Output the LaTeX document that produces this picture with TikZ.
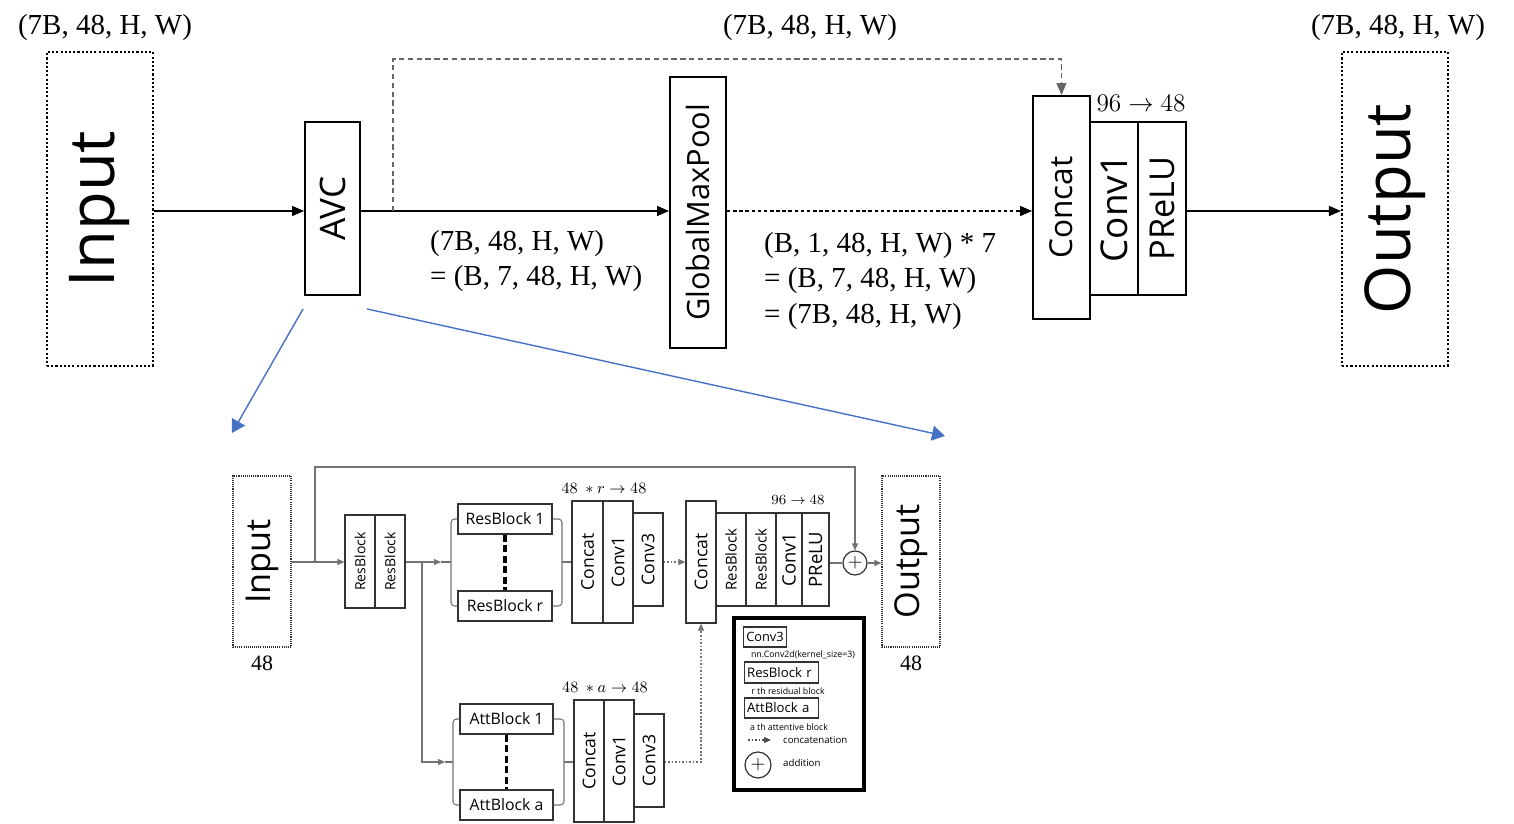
\documentclass[tikz,border=0pt]{standalone}
\usepackage{fontspec}
\usepackage{graphicx}
\setmainfont{Liberation Serif}
\setsansfont{Open Sans}
\usetikzlibrary{arrows.meta,positioning}

\newcommand{\upr}[1]{\rotatebox{90}{#1}}
\newcommand{\fs}[1]{\fontsize{#1}{#1}\selectfont}

\tikzset{
  big/.style={draw, line width=1.1pt, inner sep=0pt, font=\sffamily},
  bigdot/.style={draw, line width=1.2pt, dash pattern=on 1.2pt off 1.2pt, inner sep=0pt, font=\sffamily\fs{36}},
  small/.style={draw=black!80, line width=0.7pt, inner sep=0pt, font=\sffamily\fs{9}},
  smalldot/.style={draw=black!80, line width=0.7pt, dash pattern=on 0.6pt off 0.6pt, inner sep=0pt, font=\sffamily\fs{19.5}},
  dimlabel/.style={font=\fs{16.5}},
  link/.style={line width=0.7pt, -{Triangle[length=2.4mm,width=2mm]}},
  wire/.style={draw=black!55, line width=0.6pt},
  wirearr/.style={wire, -{Triangle[length=1.4mm,width=1.2mm]}},
  zoomarr/.style={draw={rgb,255:red,68;green,114;blue,196}, line width=0.8pt, -{Triangle[length=2.6mm,width=3mm]}},
}

\begin{document}
\begin{tikzpicture}[x=0.02cm,y=-0.02cm]
    \useasboundingbox (0,0) rectangle (1514,824);

    % Top row
    \node[bigdot, minimum width=2.12cm, minimum height=6.28cm] (inp) at (100,209) {\upr{Input}};
    \node[big, minimum width=1.1cm, minimum height=3.46cm, font=\sffamily\fs{20}] (avc) at (332.5,208.5) {\upr{AVC}};
    \node[big, minimum width=1.12cm, minimum height=5.42cm, font=\sffamily\fs{17.5}] (gmp) at (698,212.5) {\upr{GlobalMaxPool}};
    \node[big, minimum width=1.14cm, minimum height=4.46cm, font=\sffamily\fs{18}] (cat) at (1061.5,207.5) {\upr{Concat}};
    \node[big, minimum width=0.96cm, minimum height=3.46cm, font=\sffamily\fs{21}] (conv) at (1114,208.5) {\upr{Conv1}};
    \node[big, minimum width=0.96cm, minimum height=3.46cm, font=\sffamily\fs{19.5}] (prelu) at (1162,208.5) {\upr{PReLU}};
    \node[bigdot, minimum width=2.12cm, minimum height=6.28cm] (outp) at (1395,209) {\upr{Output}};

    % Top labels
    \node[dimlabel] (sin) at (105,28) {(7B, 48, H, W)};
    \node[dimlabel] (smid) at (810,28) {(7B, 48, H, W)};
    \node[dimlabel] (sout) at (1398,28) {(7B, 48, H, W)};
    \node[dimlabel, anchor=west, align=left, font=\fontsize{16.5}{20}\selectfont] (savc) at (424,261) {(7B, 48, H, W)\\= (B, 7, 48, H, W)};
    \node[dimlabel, anchor=west, align=left, font=\fontsize{16.5}{20.2}\selectfont] (sgmp) at (758,281) {(B, 1, 48, H, W) * 7\\= (B, 7, 48, H, W)\\= (7B, 48, H, W)};
    \node[font=\fs{14}] (sred) at (1141,103) {$96 \rightarrow 48$};

    % Top arrows
    \coordinate (split) at (393,211);
    \draw[link] (inp.east |- split) -- (avc.west |- split);
    \draw[link] (avc.east |- split) -- (gmp.west |- split);
    \draw[link, dash pattern=on 2pt off 1.5pt] (gmp.east |- split) -- (cat.west |- split);
    \draw[link] (prelu.east |- split) -- (outp.west |- split);
    \draw[link, draw=black!60, dash pattern=on 3pt off 2pt, line width=0.6pt] (split) -- (393,59) -| (cat.north);

    % Zoom arrows
    \coordinate (zl) at (232,433);
    \coordinate (zr) at (945,436);
    \draw[zoomarr] ([shift={(-1,13)}]avc.south west) -- (zl);
    \draw[zoomarr] ([shift={(6,13)}]avc.south east) -- (zr);

    % Bottom row
    \node[smalldot, minimum width=1.16cm, minimum height=3.42cm] (inp2) at (262,561.5) {\upr{Input}};
    \node[font=\fs{12.5}] (n48a) at (262,663) {48};
    \node[small, minimum width=0.6cm, minimum height=1.86cm, font=\sffamily\fs{8}] (rb1) at (360,561.5) {\upr{ResBlock}};
    \node[small, minimum width=0.6cm, minimum height=1.86cm, font=\sffamily\fs{8}] (rb2) at (390,561.5) {\upr{ResBlock}};

    \node[small, minimum width=1.88cm, minimum height=0.6cm] (rbA) at (505,519) {ResBlock 1};
    \node[small, minimum width=1.88cm, minimum height=0.6cm] (rbB) at (505,606) {ResBlock r};
    \node[small, minimum width=0.62cm, minimum height=2.44cm, font=\sffamily\fs{10}] (ccA) at (587.5,562) {\upr{Concat}};
    \node[small, minimum width=0.6cm, minimum height=2.44cm, font=\sffamily\fs{10}] (cvA) at (618,562) {\upr{Conv1}};
    \node[small, minimum width=0.6cm, minimum height=1.86cm, font=\sffamily\fs{10}] (c3A) at (648,559.5) {\upr{Conv3}};
    \node[font=\fs{9}] (redA) at (604,488) {$48\ \ast r \rightarrow 48$};

    \node[small, minimum width=1.86cm, minimum height=0.6cm] (abA) at (506.5,719) {AttBlock 1};
    \node[small, minimum width=1.86cm, minimum height=0.6cm] (abB) at (506.5,805) {AttBlock a};
    \node[small, minimum width=0.6cm, minimum height=2.44cm, font=\sffamily\fs{10}] (ccB) at (589,761) {\upr{Concat}};
    \node[small, minimum width=0.6cm, minimum height=2.44cm, font=\sffamily\fs{10}] (cvB) at (619,761) {\upr{Conv1}};
    \node[small, minimum width=0.6cm, minimum height=1.86cm, font=\sffamily\fs{10}] (c3B) at (649,760.5) {\upr{Conv3}};
    \node[font=\fs{9}] (redB) at (605,687) {$48\ \ast a \rightarrow 48$};

    \node[small, minimum width=0.6cm, minimum height=2.44cm, font=\sffamily\fs{10}] (cc2) at (701,562) {\upr{Concat}};
    \node[small, minimum width=0.6cm, minimum height=1.86cm, font=\sffamily\fs{8.5}] (rb3) at (731,559.5) {\upr{ResBlock}};
    \node[small, minimum width=0.6cm, minimum height=1.86cm, font=\sffamily\fs{8.5}] (rb4) at (761,559.5) {\upr{ResBlock}};
    \node[small, minimum width=0.52cm, minimum height=1.86cm, font=\sffamily\fs{10.5}] (cv2) at (789,559.5) {\upr{Conv1}};
    \node[small, minimum width=0.54cm, minimum height=1.86cm, font=\sffamily\fs{10.5}] (pr2) at (815.5,559.5) {\upr{PReLU}};
    \node[font=\fs{8}] (red2) at (798,500) {$96 \rightarrow 48$};
    \node[small, circle, minimum size=0.48cm, font=\fs{11}] (plus) at (855,563) {$+$};
    \node[smalldot, minimum width=1.16cm, minimum height=3.42cm] (out2) at (911,561.5) {\upr{Output}};
    \node[font=\fs{12.5}] (n48b) at (911,663) {48};

    % Bottom wires
    \coordinate (skip) at (315,562);
    \coordinate (fork) at (422,562);
    \draw[wirearr] (inp2.east |- skip) -- (rb1.west |- skip);
    \draw[wirearr] (skip) -- (315,467) -| (plus.north);
    \draw[wirearr] (rb2.east |- fork) -- (441,562);
    \draw[wire] (441,562) -- (451,562);
    \draw[wirearr] (fork) -- (422,762) -- (445,762);
    \draw[wire] (445,762) -- (453,762);
    \draw[wire, rounded corners=2pt] (rbA.west) -- (451,519) -- (451,606) -- (rbB.west);
    \draw[wire, rounded corners=2pt] (rbA.east) -- (562,519) -- (562,606) -- (rbB.east);
    \draw[wire] (562,562) -- (ccA.west);
    \draw[wire, rounded corners=2pt] (abA.west) -- (453,719) -- (453,805) -- (abB.west);
    \draw[wire, rounded corners=2pt] (abA.east) -- (564,719) -- (564,805) -- (abB.east);
    \draw[wire] (564,762) -- (ccB.west |- 0,762);
    \draw[line width=1.8pt, dash pattern=on 4pt off 2pt] (rbA.south) -- (rbB.north);
    \draw[line width=1.8pt, dash pattern=on 4pt off 2pt] (abA.south) -- (abB.north);
    \draw[wirearr, dash pattern=on 1pt off 1pt] (c3A.east |- 0,562) -- (cc2.west);
    \draw[wirearr, dash pattern=on 1pt off 1pt] (c3B.east |- 0,762) -| (cc2.south);
    \draw[wire] (pr2.east |- plus) -- (plus.west);
    \draw[wirearr] (plus.east) -- (out2.west |- plus);

    % Legend
    \node[draw, line width=2pt, minimum width=2.6cm, minimum height=3.44cm] (legend) at (799,704) {};
    \node[small, minimum width=0.86cm, minimum height=0.4cm, font=\sffamily\fs{7.3}] (lconv) at (765,637) {Conv3};
    \node[font=\sffamily\fs{5}] (lconvt) at (803,655) {nn.Conv2d(kernel\_size=3)};
    \node[small, minimum width=1.48cm, minimum height=0.42cm, font=\sffamily\fs{7.5}, anchor=west, align=left, text width=1.38cm] (lres) at (744,672.5) {ResBlock r};
    \node[font=\sffamily\fs{5}] (lrest) at (788,691) {r th residual block};
    \node[small, minimum width=1.48cm, minimum height=0.4cm, font=\sffamily\fs{7.5}, anchor=west, align=left, text width=1.38cm] (latt) at (744,708) {AttBlock a};
    \node[font=\sffamily\fs{5}] (lattt) at (789,727) {a th attentive block};
    \coordinate (lcs) at (748,740);
    \coordinate (lce) at (771,740);
    \draw[wirearr, draw=black!70, dash pattern=on 1pt off 1pt] (lcs) -- (lce);
    \node[font=\sffamily\fs{5.5}, anchor=west] (lcat) at (777,740) {concatenation};
    \node[small, circle, minimum size=0.52cm, font=\fs{11}] (lplus) at (758,765) {$+$};
    \node[font=\sffamily\fs{5.5}, anchor=west] (ladd) at (777,763) {addition};

\end{tikzpicture}
\end{document}
